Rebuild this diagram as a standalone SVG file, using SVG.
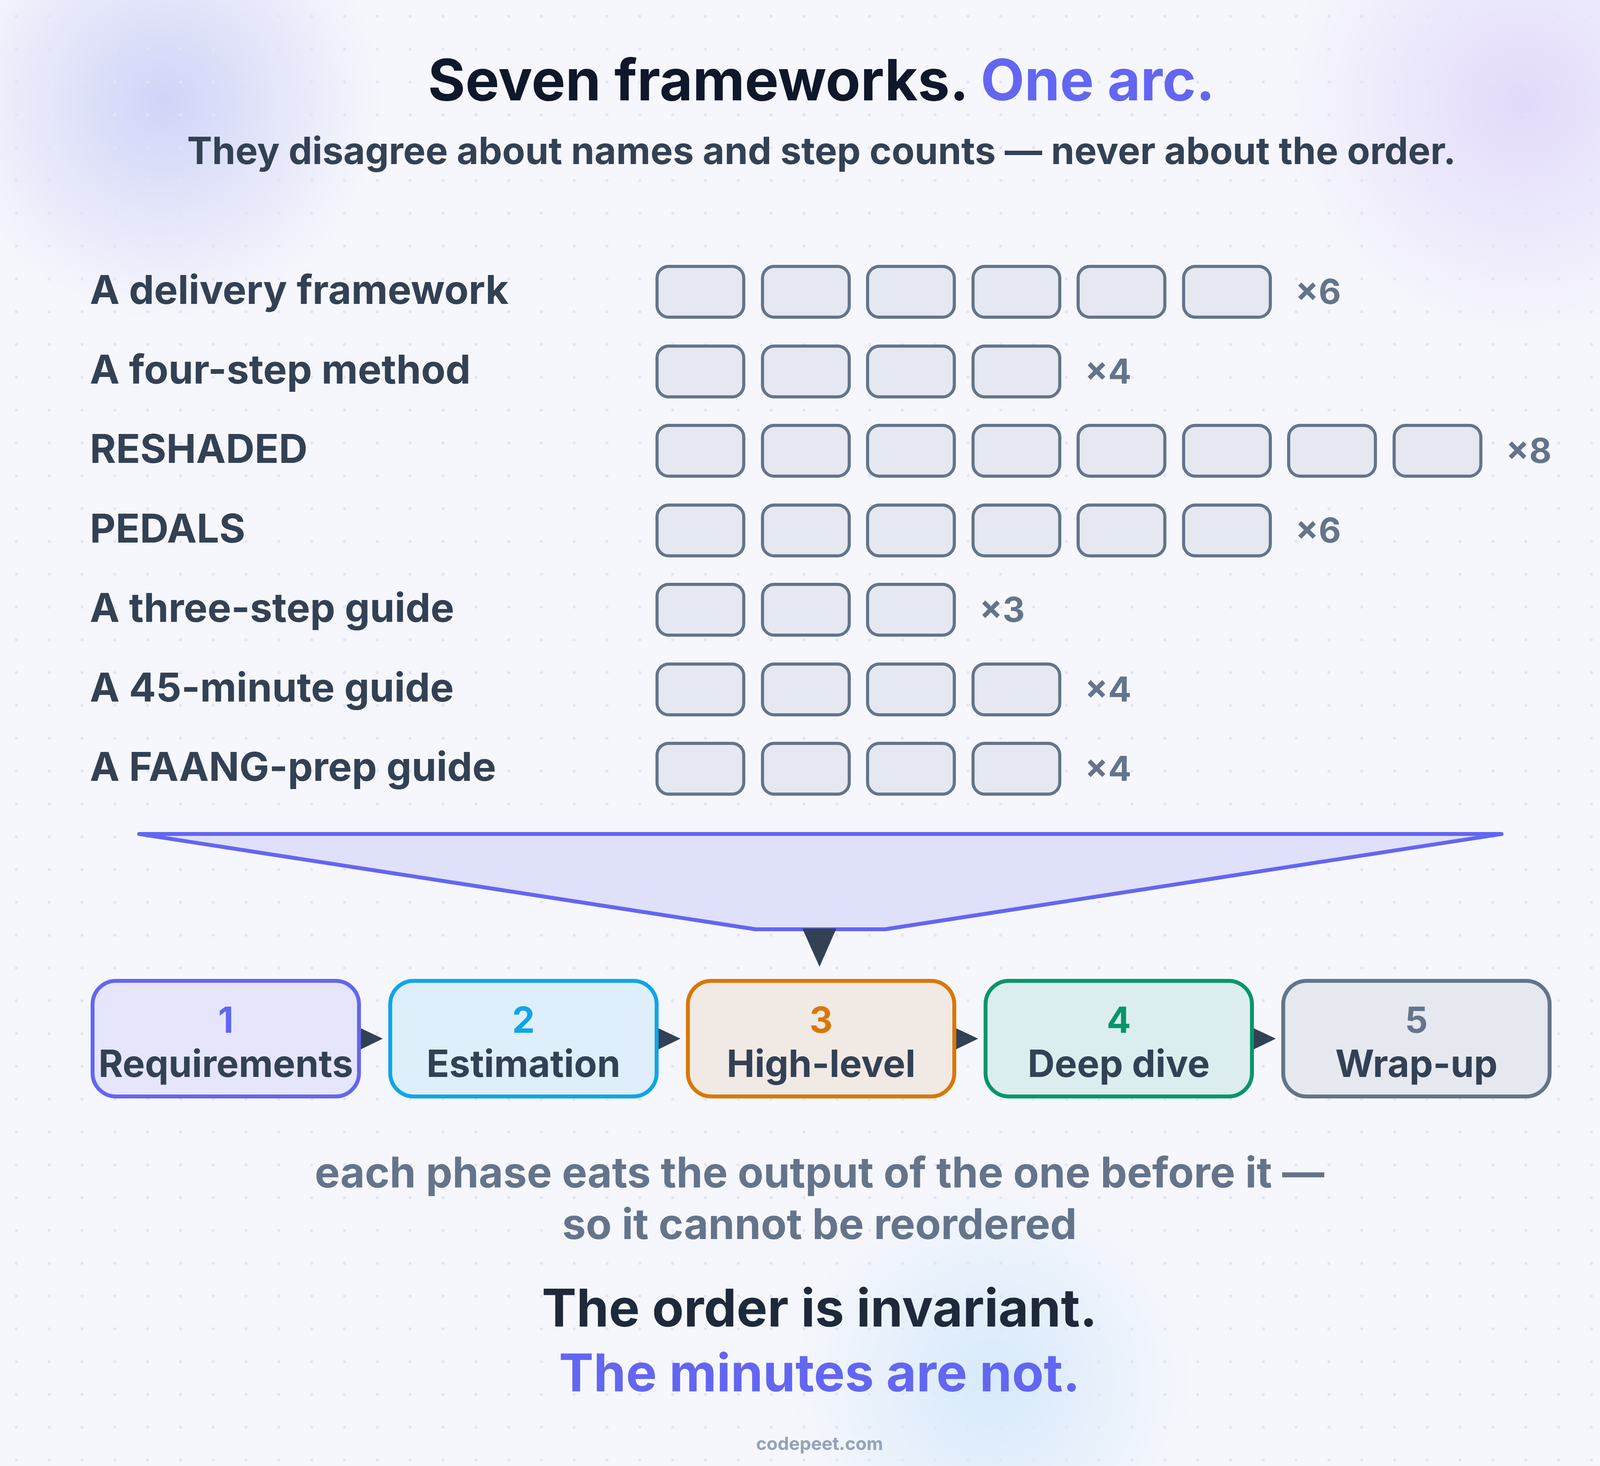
<svg xmlns="http://www.w3.org/2000/svg" width="4200" height="3753" viewBox="0 0 4200 3753">
<defs>
<pattern id="dots" width="84" height="84" patternUnits="userSpaceOnUse"><circle cx="42" cy="42" r="4" fill="#e3e5f6"/></pattern>
<radialGradient id="g1"><stop offset="0" stop-color="#c7cbf7" stop-opacity="0.8"/><stop offset="1" stop-color="#c7cbf7" stop-opacity="0"/></radialGradient>
<radialGradient id="g2"><stop offset="0" stop-color="#ddd3fb" stop-opacity="0.8"/><stop offset="1" stop-color="#ddd3fb" stop-opacity="0"/></radialGradient>
<radialGradient id="g3"><stop offset="0" stop-color="#cfe6fb" stop-opacity="0.8"/><stop offset="1" stop-color="#cfe6fb" stop-opacity="0"/></radialGradient>
<style>
text{font-family:Inter,"Liberation Sans",sans-serif;font-weight:700}
.lab{font-size:102px;fill:#334155}
.cnt{font-size:88px;fill:#64748b}
.sb{fill:#e5e8f0;stroke:#64748b;stroke-width:8}
.ph{stroke-width:10}
.num{font-size:92px;text-anchor:middle}
.pl{font-size:96px;text-anchor:middle;fill:#334155}
.ar{fill:#334155}
</style>
</defs>
<rect width="4200" height="3753" fill="#f6f7fc"/>
<circle cx="420" cy="260" r="560" fill="url(#g1)"/>
<circle cx="3900" cy="260" r="620" fill="url(#g2)"/>
<circle cx="2540" cy="3540" r="520" fill="url(#g3)"/>
<rect width="4200" height="3753" fill="url(#dots)"/>
<g id="title">
<text x="2103" y="257" font-size="146" text-anchor="middle" font-weight="800"><tspan fill="#0f172a">Seven frameworks. </tspan><tspan fill="#6366f1">One arc.</tspan></text>
<text x="2103" y="420" font-size="96" text-anchor="middle" fill="#334155">They disagree about names and step counts — never about the order.</text>
</g>
<g id="frameworks">
<g id="row1"><text class="lab" x="230" y="778">A delivery framework</text>
<rect class="sb" x="1682" y="682" width="222" height="130" rx="30"/><rect class="sb" x="1952" y="682" width="222" height="130" rx="30"/><rect class="sb" x="2221" y="682" width="222" height="130" rx="30"/><rect class="sb" x="2491" y="682" width="222" height="130" rx="30"/><rect class="sb" x="2760" y="682" width="222" height="130" rx="30"/><rect class="sb" x="3030" y="682" width="222" height="130" rx="30"/>
<text class="cnt" x="3316" y="778">×6</text></g>
<g id="row2"><text class="lab" x="230" y="982">A four-step method</text>
<rect class="sb" x="1682" y="886" width="222" height="130" rx="30"/><rect class="sb" x="1952" y="886" width="222" height="130" rx="30"/><rect class="sb" x="2221" y="886" width="222" height="130" rx="30"/><rect class="sb" x="2491" y="886" width="222" height="130" rx="30"/>
<text class="cnt" x="2777" y="982">×4</text></g>
<g id="row3"><text class="lab" x="230" y="1185">RESHADED</text>
<rect class="sb" x="1682" y="1089" width="222" height="130" rx="30"/><rect class="sb" x="1952" y="1089" width="222" height="130" rx="30"/><rect class="sb" x="2221" y="1089" width="222" height="130" rx="30"/><rect class="sb" x="2491" y="1089" width="222" height="130" rx="30"/><rect class="sb" x="2760" y="1089" width="222" height="130" rx="30"/><rect class="sb" x="3030" y="1089" width="222" height="130" rx="30"/><rect class="sb" x="3299" y="1089" width="222" height="130" rx="30"/><rect class="sb" x="3569" y="1089" width="222" height="130" rx="30"/>
<text class="cnt" x="3855" y="1185">×8</text></g>
<g id="row4"><text class="lab" x="230" y="1389">PEDALS</text>
<rect class="sb" x="1682" y="1293" width="222" height="130" rx="30"/><rect class="sb" x="1952" y="1293" width="222" height="130" rx="30"/><rect class="sb" x="2221" y="1293" width="222" height="130" rx="30"/><rect class="sb" x="2491" y="1293" width="222" height="130" rx="30"/><rect class="sb" x="2760" y="1293" width="222" height="130" rx="30"/><rect class="sb" x="3030" y="1293" width="222" height="130" rx="30"/>
<text class="cnt" x="3316" y="1389">×6</text></g>
<g id="row5"><text class="lab" x="230" y="1592">A three-step guide</text>
<rect class="sb" x="1682" y="1496" width="222" height="130" rx="30"/><rect class="sb" x="1952" y="1496" width="222" height="130" rx="30"/><rect class="sb" x="2221" y="1496" width="222" height="130" rx="30"/>
<text class="cnt" x="2507" y="1592">×3</text></g>
<g id="row6"><text class="lab" x="230" y="1796">A 45-minute guide</text>
<rect class="sb" x="1682" y="1700" width="222" height="130" rx="30"/><rect class="sb" x="1952" y="1700" width="222" height="130" rx="30"/><rect class="sb" x="2221" y="1700" width="222" height="130" rx="30"/><rect class="sb" x="2491" y="1700" width="222" height="130" rx="30"/>
<text class="cnt" x="2777" y="1796">×4</text></g>
<g id="row7"><text class="lab" x="230" y="1999">A FAANG-prep guide</text>
<rect class="sb" x="1682" y="1903" width="222" height="130" rx="30"/><rect class="sb" x="1952" y="1903" width="222" height="130" rx="30"/><rect class="sb" x="2221" y="1903" width="222" height="130" rx="30"/><rect class="sb" x="2491" y="1903" width="222" height="130" rx="30"/>
<text class="cnt" x="2777" y="1999">×4</text></g>
</g>
<g id="funnel">
<polygon points="356,2135 3844,2135 2266,2379 1934,2379" fill="#dfe0fa" stroke="#6366f1" stroke-width="10" stroke-linejoin="round"/>
</g>
<g id="connectors">
<line x1="2098" y1="2379" x2="2098" y2="2465" stroke="#6366f1" stroke-width="8"/>
<polygon class="ar" points="2054,2377 2141,2377 2098,2475"/>
<polygon class="ar" points="910,2626 980,2659 910,2693"/>
<polygon class="ar" points="1672,2626 1742,2659 1672,2693"/>
<polygon class="ar" points="2434,2626 2504,2659 2434,2693"/>
<polygon class="ar" points="3196,2626 3266,2659 3196,2693"/>
</g>
<g id="phase1"><rect class="ph" x="237" y="2511" width="682" height="296" rx="60" fill="#e5e6fb" stroke="#6366f1"/><text class="num" x="578" y="2644" fill="#6366f1">1</text><text class="pl" x="578" y="2757">Requirements</text></g>
<g id="phase2"><rect class="ph" x="999" y="2511" width="682" height="296" rx="60" fill="#dfeefb" stroke="#0ea5e9"/><text class="num" x="1340" y="2644" fill="#0ea5e9">2</text><text class="pl" x="1340" y="2757">Estimation</text></g>
<g id="phase3"><rect class="ph" x="1761" y="2511" width="682" height="296" rx="60" fill="#f1e9e4" stroke="#d97706"/><text class="num" x="2102" y="2644" fill="#d97706">3</text><text class="pl" x="2102" y="2757">High-level</text></g>
<g id="phase4"><rect class="ph" x="2523" y="2511" width="682" height="296" rx="60" fill="#dcedef" stroke="#059669"/><text class="num" x="2864" y="2644" fill="#059669">4</text><text class="pl" x="2864" y="2757">Deep dive</text></g>
<g id="phase5"><rect class="ph" x="3285" y="2511" width="682" height="296" rx="60" fill="#e5e8ef" stroke="#64748b"/><text class="num" x="3626" y="2644" fill="#64748b">5</text><text class="pl" x="3626" y="2757">Wrap-up</text></g>
<g id="footer">
<text x="2098" y="3040" font-size="108" text-anchor="middle" fill="#64748b">each phase eats the output of the one before it —</text>
<text x="2098" y="3172" font-size="108" text-anchor="middle" fill="#64748b">so it cannot be reordered</text>
<text x="2098" y="3396" font-size="133" text-anchor="middle" fill="#1e293b" font-weight="800">The order is invariant.</text>
<text x="2098" y="3562" font-size="133" text-anchor="middle" fill="#6366f1" font-weight="800">The minutes are not.</text>
<text x="2098" y="3712" font-size="46" text-anchor="middle" fill="#94a3b8">codepeet.com</text>
<text transform="translate(4110,1875) rotate(90)" font-size="46" text-anchor="middle" fill="#94a3b8">codepeet.com</text>
</g>
</svg>
